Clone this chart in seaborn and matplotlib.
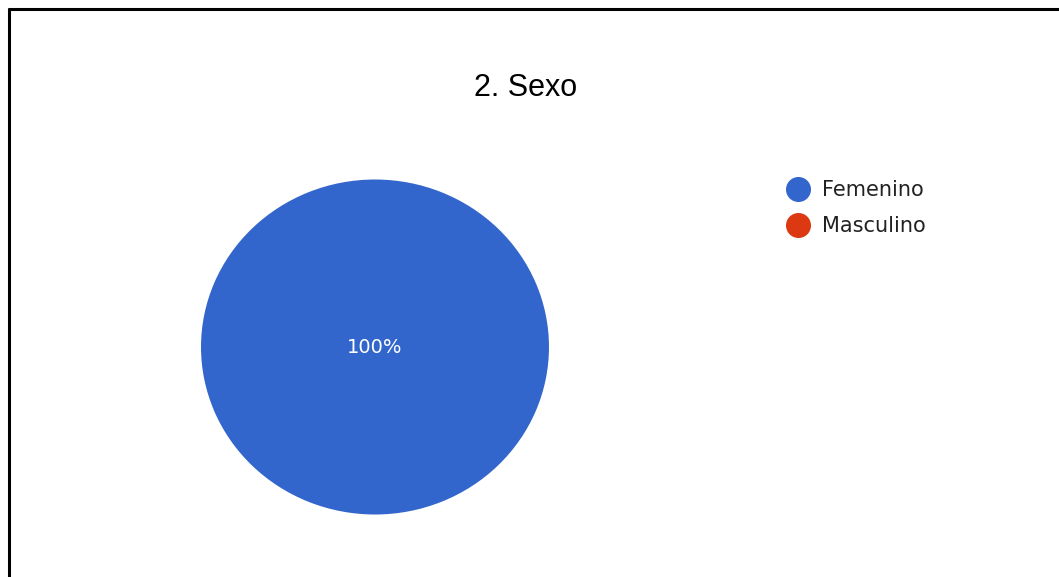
import matplotlib
matplotlib.use("Agg")
import matplotlib.pyplot as plt
import seaborn as sns
from matplotlib.lines import Line2D

sns.set_theme(style="white")
plt.rcParams['font.family'] = ['Liberation Sans', 'DejaVu Sans']

# data
categories = ['Femenino', 'Masculino']
counts = [100, 0]
colors = ['#3366cc', '#dc3912']
title = '2. Sexo'

fig = plt.figure(figsize=(10.59, 5.77), dpi=100)
fig.patch.set_facecolor('white')

# pie area
ax = fig.add_axes([0.1898, 0.1083, 0.3286, 0.5806])


def pct_label(p):
    return f'{p:.0f}%' if p > 0 else ''


wedges, texts, autotexts = ax.pie(
    counts, colors=colors, startangle=90, counterclock=False,
    autopct=pct_label, pctdistance=0.0,
    wedgeprops={'linewidth': 0},
    textprops={'color': 'white', 'fontsize': 14, 'family': ['DejaVu Sans']},
)
ax.set_aspect('auto')
ax.set_xlim(-1, 1)
ax.set_ylim(-1, 1)
ax.axis('off')

# title
fig.text(526 / 1059, 1 - 96 / 577, title, ha='center', va='baseline',
         fontsize=22, color='black')

# legend
handles = [Line2D([], [], linestyle='none', marker='o', markersize=17,
                  markerfacecolor=c, markeredgecolor=c) for c in colors]
leg = fig.legend(handles, categories, loc='upper left',
                 bbox_to_anchor=(788 / 1059, 1 - 180 / 577),
                 frameon=False, handlelength=1.0, handletextpad=0.63,
                 labelspacing=0.77, borderaxespad=0, borderpad=0,
                 prop={'family': ['DejaVu Sans'], 'size': 15})
for t in leg.get_texts():
    t.set_color('#222222')

# outer frame (left and top edges visible)
fig.add_artist(Line2D([9 / 1059, 9 / 1059], [0, 1 - 9 / 577],
                      transform=fig.transFigure, color='black', linewidth=2.2))
fig.add_artist(Line2D([9 / 1059, 1], [1 - 9 / 577, 1 - 9 / 577],
                      transform=fig.transFigure, color='black', linewidth=2.2))

fig.savefig('out.png', dpi=100, facecolor='white')
